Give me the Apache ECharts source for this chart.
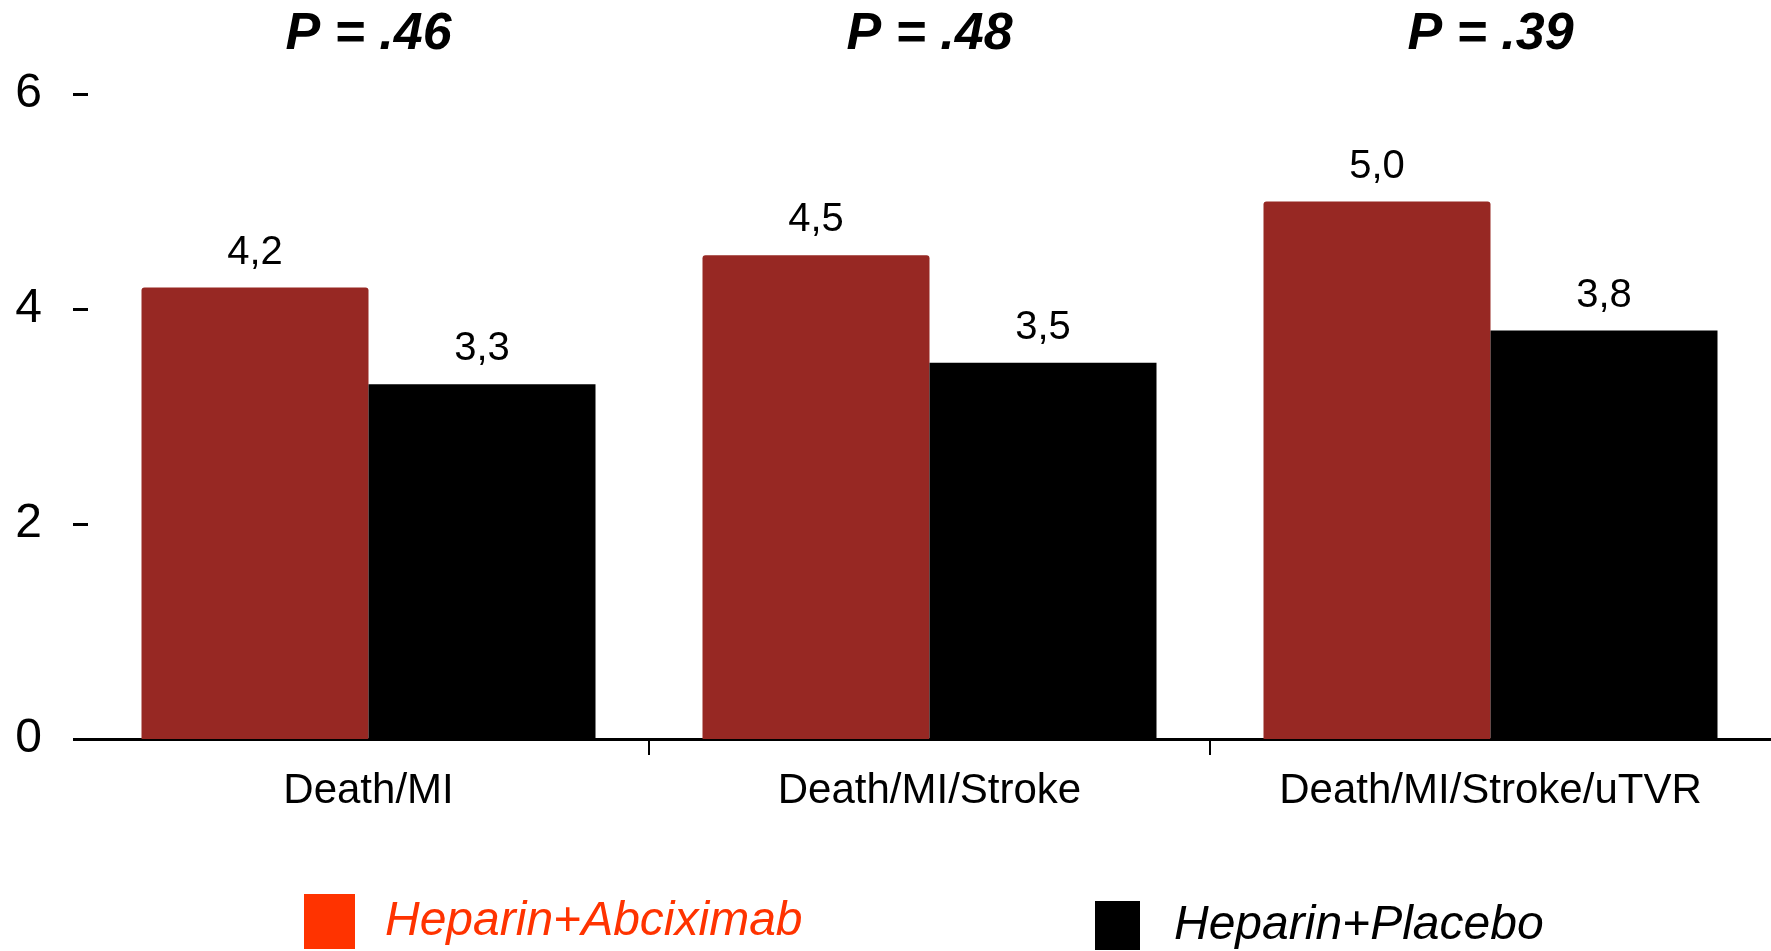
<!DOCTYPE html>
<html>
<head>
<meta charset="utf-8">
<title>Heparin+Abciximab vs Heparin+Placebo</title>
<script src="https://cdn.jsdelivr.net/npm/echarts@6/dist/echarts.min.js"></script>
<style>
  html, body { margin: 0; padding: 0; background: #fff; }
  #chart { width: 1771px; height: 951px; }
</style>
</head>
<body>
<div id="chart"></div>
<script>
var categories = ['Death/MI', 'Death/MI/Stroke', 'Death/MI/Stroke/uTVR'];
var pValues = ['P = .46', 'P = .48', 'P = .39'];
var abciximab = [4.2, 4.5, 5.0];
var placebo = [3.3, 3.5, 3.8];
var yTicks = [0, 2, 4, 6];
// category boundaries that carry a tick below the axis
var boundaryTicks = [1, 2];

var fontFamily = '"Liberation Sans", Arial, Helvetica, sans-serif';

var valueLabel = {
    show: true,
    position: 'top',
    distance: 15,
    color: '#000',
    fontFamily: fontFamily,
    fontSize: 40,
    formatter: function (p) {
        return p.value.toFixed(1).replace('.', ',');
    }
};

var option = {
    animation: false,
    backgroundColor: '#fff',
    grid: { left: 88, right: 0, top: 94, bottom: 212, containLabel: false },
    legend: [
        {
            left: 299, top: 889,
            itemWidth: 51, itemHeight: 55,
            icon: 'rect',
            selectedMode: false,
            textStyle: { fontFamily: fontFamily, fontSize: 48, fontStyle: 'italic', padding: [0, 0, 0, 25] },
            data: [{ name: 'Heparin+Abciximab', itemStyle: { color: '#FF3300' }, textStyle: { color: '#FF3300' } }]
        },
        {
            left: 1090, top: 896,
            itemWidth: 45, itemHeight: 49,
            icon: 'rect',
            selectedMode: false,
            textStyle: { fontFamily: fontFamily, fontSize: 48, fontStyle: 'italic', padding: [0, 0, 0, 29] },
            data: [{ name: 'Heparin+Placebo', itemStyle: { color: '#000' }, textStyle: { color: '#000' } }]
        }
    ],
    xAxis: [
        {
            type: 'category',
            data: categories,
            axisLine: { lineStyle: { color: '#000', width: 3 } },
            axisTick: { show: false },
            axisLabel: { color: '#000', fontFamily: fontFamily, fontSize: 42, margin: 31 }
        },
        {
            type: 'category',
            position: 'top',
            data: pValues,
            axisLine: { show: false },
            axisTick: { show: false },
            axisLabel: { color: '#000', fontFamily: fontFamily, fontSize: 52, fontWeight: 'bold', fontStyle: 'italic', margin: 33 }
        },
        {
            // boundary ticks between the groups
            type: 'value',
            position: 'bottom',
            min: 0,
            max: categories.length,
            interval: 1,
            axisLine: { show: false },
            axisLabel: { show: false },
            splitLine: { show: false },
            axisTick: {
                show: true,
                length: 16,
                customValues: boundaryTicks,
                lineStyle: { color: '#000', width: 2 }
            }
        }
    ],
    yAxis: {
        type: 'value',
        min: yTicks[0],
        max: yTicks[yTicks.length - 1],
        interval: yTicks[1] - yTicks[0],
        axisLine: { show: false },
        axisTick: { show: true, length: 15, lineStyle: { color: '#000', width: 3 } },
        splitLine: { show: false },
        axisLabel: { color: '#000', fontFamily: fontFamily, fontSize: 48, margin: 46 }
    },
    series: [
        {
            name: 'Heparin+Abciximab',
            type: 'bar',
            data: abciximab,
            barWidth: 227,
            barGap: '0%',
            itemStyle: { color: '#972823', borderRadius: [3, 3, 0, 0] },
            label: valueLabel
        },
        {
            name: 'Heparin+Placebo',
            type: 'bar',
            data: placebo,
            barWidth: 227,
            barGap: '0%',
            itemStyle: { color: '#000' },
            label: valueLabel
        }
    ]
};

var chart = echarts.init(document.getElementById('chart'));
chart.setOption(option);
</script>
</body>
</html>
